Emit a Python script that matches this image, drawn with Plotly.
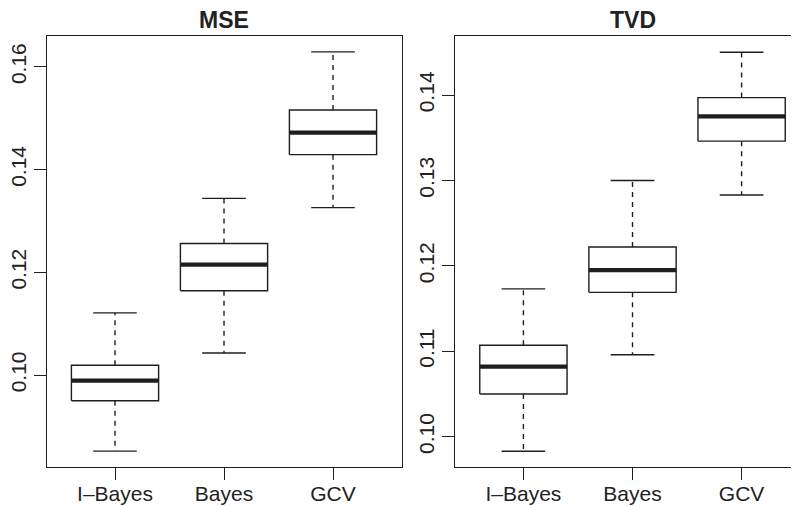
import plotly.graph_objects as go
from plotly.subplots import make_subplots

categories = ["I\u2013Bayes", "Bayes", "GCV"]

# MSE panel: lower whisker, Q1, median, Q3, upper whisker
mse_lower = [0.0852, 0.1043, 0.1326]
mse_q1 = [0.0950, 0.1164, 0.1429]
mse_median = [0.0989, 0.1215, 0.1472]
mse_q3 = [0.1019, 0.1256, 0.1516]
mse_upper = [0.1121, 0.1344, 0.1629]

# TVD panel
tvd_lower = [0.0983, 0.1096, 0.1283]
tvd_q1 = [0.1050, 0.1169, 0.1346]
tvd_median = [0.1082, 0.1195, 0.1375]
tvd_q3 = [0.1107, 0.1222, 0.1397]
tvd_upper = [0.1173, 0.1300, 0.1450]

mse_ticks = [0.10, 0.12, 0.14, 0.16]
tvd_ticks = [0.10, 0.11, 0.12, 0.13, 0.14]

INK = "#1e1e1e"
LW = 1.4
FONT = "Liberation Sans, Arial, Helvetica, sans-serif"

fig = make_subplots(rows=1, cols=2)


def add_boxes(col, lower, q1, med, q3, upper):
    half = 0.4
    cap = 0.2
    bx, by, mx, my, wx, wy, cx, cy = [], [], [], [], [], [], [], []
    for i in range(len(categories)):
        p = i + 1
        bx += [p - half, p + half, p + half, p - half, p - half, None]
        by += [q1[i], q1[i], q3[i], q3[i], q1[i], None]
        mx += [p - half, p + half, None]
        my += [med[i], med[i], None]
        wx += [p, p, None, p, p, None]
        wy += [q3[i], upper[i], None, q1[i], lower[i], None]
        cx += [p - cap, p + cap, None, p - cap, p + cap, None]
        cy += [upper[i], upper[i], None, lower[i], lower[i], None]
    fig.add_trace(go.Scatter(x=wx, y=wy, mode="lines", line=dict(color=INK, width=LW, dash="5px,5px"),
                             showlegend=False, hoverinfo="skip"), row=1, col=col)
    fig.add_trace(go.Scatter(x=cx, y=cy, mode="lines", line=dict(color=INK, width=LW),
                             showlegend=False, hoverinfo="skip"), row=1, col=col)
    fig.add_trace(go.Scatter(x=bx, y=by, mode="lines", line=dict(color=INK, width=LW),
                             fill="toself", fillcolor="white", showlegend=False, hoverinfo="skip"), row=1, col=col)
    fig.add_trace(go.Scatter(x=mx, y=my, mode="lines", line=dict(color=INK, width=4.2),
                             showlegend=False, hoverinfo="skip"), row=1, col=col)


add_boxes(1, mse_lower, mse_q1, mse_median, mse_q3, mse_upper)
add_boxes(2, tvd_lower, tvd_q1, tvd_median, tvd_q3, tvd_upper)

axis_common = dict(showgrid=False, zeroline=False, showline=True, linecolor=INK, linewidth=1.2,
                   ticks="outside", ticklen=12, tickwidth=1.2, tickcolor=INK, automargin=False,
                   tickfont=dict(family=FONT, size=21, color="#222"))

fig.update_xaxes(**axis_common, tickmode="array", tickvals=[1, 2, 3], ticktext=categories,
                 ticklabelstandoff=-4)
fig.update_yaxes(**axis_common, tickangle=-90, tickformat=".2f")

# page has an 8px body margin, so the figure spans 791x498 starting at (8, 8)
W, H = 791, 498
L, T, B = 39, 28, 39
pw = W - L
fig.update_xaxes(domain=[0, 355 / pw], range=[0.376, 3.633], mirror=True, row=1, col=1)
fig.update_xaxes(domain=[408 / pw, 1.0], range=[0.373, 3.526], mirror=True, row=1, col=2)
fig.update_yaxes(range=[0.0821, 0.1660], tickvals=mse_ticks, mirror=True, row=1, col=1)
fig.update_yaxes(range=[0.09645, 0.14691], tickvals=tvd_ticks, mirror=False, row=1, col=2)

fig.add_annotation(text="<b>MSE</b>", x=2, xref="x", y=1, yref="paper", yanchor="bottom", yshift=1,
                   showarrow=False, font=dict(family=FONT, size=23, color="#222"))
fig.add_annotation(text="<b>TVD</b>", x=2, xref="x2", y=1, yref="paper", yanchor="bottom", yshift=1,
                   showarrow=False, font=dict(family=FONT, size=23, color="#222"))

fig.update_layout(width=W, height=H, margin=dict(l=L, r=0, t=T, b=B, autoexpand=False),
                  paper_bgcolor="white", plot_bgcolor="white", showlegend=False)

fig.write_html("out.html")
